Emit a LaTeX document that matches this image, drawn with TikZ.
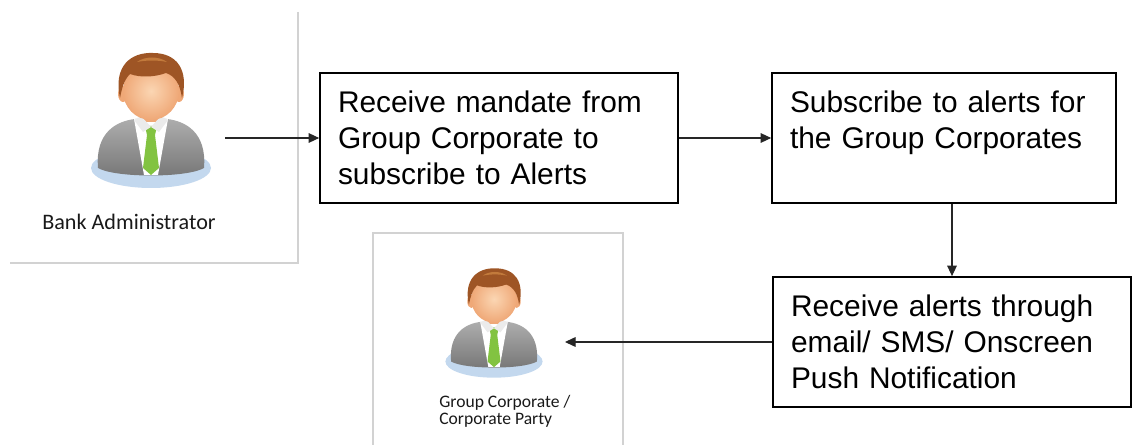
\documentclass[tikz,border=0pt]{standalone}
\usepackage{fontspec}
\setmainfont{Liberation Sans}
\newfontfamily\iconfont{Carlito}
\usetikzlibrary{arrows.meta}

\definecolor{panelgray}{HTML}{D2D2D2}
\definecolor{shadowblue}{HTML}{C3D8EE}
\definecolor{suitgray}{HTML}{767676}
\definecolor{suitlight}{HTML}{ADADAD}
\definecolor{tiegreen}{HTML}{82C341}
\definecolor{skin}{HTML}{EFA877}
\definecolor{skinlight}{HTML}{FBD6B3}
\definecolor{hairbrown}{HTML}{9E5525}
\definecolor{hairlight}{HTML}{C27A3C}

\tikzset{
    stepbox/.style={draw, line width=1pt, minimum height=2.6cm, inner xsep=0.36cm,
        align=left, font=\fontsize{17}{20.5}\selectfont},
    flow/.style={-{Triangle[length=6pt,width=5.5pt]}, line width=0.6pt, draw=black!85},
    panel/.style={draw=panelgray, line width=0.6pt},
    who/.style={align=left, text=black!90, font=\iconfont},
    % user icon, drawn around the chin point
    avatar/.pic={
        \fill[shadowblue] (0,50) ellipse (60 and 20);
        \shade[top color=suitlight, bottom color=suitgray]
            (-53,50) .. controls (-56,14) and (-34,3) .. (-16,1) -- (16,1)
            .. controls (34,3) and (56,14) .. (53,50)
            .. controls (36,60) and (-36,60) .. cycle;
        \fill[white] (-17,1) -- (17,1) -- (7,57) -- (-7,57) -- cycle;
        \fill[tiegreen] (-6,8) -- (6,8) -- (4,17) -- (-4,17) -- cycle;
        \fill[tiegreen] (-4,17) -- (4,17) -- (8,50) -- (0,57) -- (-8,50) -- cycle;
        \fill[skin] (-9,-10) rectangle (9,4);
        \fill[white!92!black] (-10,-2) -- (0,9) -- (-8,14) -- (-17,2) -- cycle;
        \fill[white!92!black] (10,-2) -- (0,9) -- (8,14) -- (17,2) -- cycle;
        \fill[skin] (-28,-24) ellipse (5 and 8);
        \fill[skin] (28,-24) ellipse (5 and 8);
        \shade[inner color=skinlight, outer color=skin] (0,-27) ellipse (28 and 29);
        \fill[hairbrown] (-31,-20) .. controls (-38,-52) and (-20,-66) .. (2,-65)
            .. controls (26,-65) and (38,-48) .. (31,-20)
            .. controls (29,-34) and (24,-42) .. (15,-45)
            .. controls (4,-41) and (-10,-40) .. (-21,-44)
            .. controls (-27,-38) and (-29,-30) .. cycle;
        \fill[hairlight] (-14,-56) .. controls (-6,-62) and (8,-62) .. (16,-56)
            .. controls (6,-58) and (-4,-58) .. cycle;
    }
}

\begin{document}
\begin{tikzpicture}[x=0.02cm, y=-0.02cm]
    \useasboundingbox (0,0) rectangle (1132,445);

    % panels behind the two users
    \draw[panel] (298,12) -- (298,263) -- (10,263);
    \draw[panel] (373,445) -- (373,233) -- (623,233) -- (623,445);

    \pic at (151,118) {avatar};
    \node[who, font=\iconfont\fontsize{12.6}{15}\selectfont] (admin) at (129,222) {Bank Administrator};

    \pic[scale=0.81] at (494,321) {avatar};
    \node[who, anchor=north west, inner sep=0pt, font=\iconfont\fontsize{10}{9.8}\selectfont] (party) at (439,395)
        {Group Corporate /\\Corporate Party};

    \node[stepbox, text width=6.44cm] (mandate) at (499,138)
        {Receive mandate from\\Group Corporate to\\subscribe to Alerts};
    \node[stepbox, text width=6.16cm] (subscribe) at (944,138)
        {Subscribe to alerts for\\the Group Corporates\\~};
    \node[stepbox, text width=6.44cm] (receive) at (952,342)
        {Receive alerts through\\email/ SMS/ Onscreen\\Push Notification};

    \coordinate (adminout) at (225,138);
    \coordinate (partyin) at (565,342);

    \draw[flow] (adminout) -- (mandate.west);
    \draw[flow] (mandate.east) -- (subscribe.west);
    \draw[flow] (subscribe.south -| receive.north) -- (receive.north);
    \draw[flow] (receive.west) -- (partyin);
\end{tikzpicture}
\end{document}
